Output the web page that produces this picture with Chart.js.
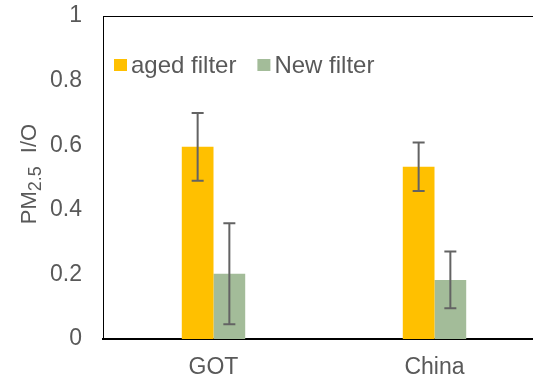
<!DOCTYPE html>
<html lang="en">
<head>
    <meta charset="UTF-8">
    <title>PM2.5 I/O</title>
    <script src="https://cdn.jsdelivr.net/npm/chart.js@4.4.1/dist/chart.umd.min.js"></script>
    <style>
        html, body { margin: 0; padding: 0; background: #fff; overflow: hidden; }
        #wrap { width: 548px; height: 379px; }
    </style>
</head>
<body>
    <div id="wrap"><canvas id="chart"></canvas></div>
    <script>
        // values
        const sites = ['GOT', 'China'];
        const agedFilter = [0.595, 0.533];
        const agedFilterErr = [0.105, 0.075];
        const newFilter = [0.202, 0.183];
        const newFilterErr = [0.156, 0.088];
        const yTicks = [0, 0.2, 0.4, 0.6, 0.8, 1];

        const textColor = '#595959';
        const fontFamily = '"Liberation Sans", Arial, sans-serif';
        const errors = [agedFilterErr, newFilterErr];

        // error bars + frame + legend + y title drawn on top of the chart
        const extras = {
            id: 'extras',
            afterDatasetsDraw(chart) {
                const ctx = chart.ctx;
                const y = chart.scales.y;
                const area = chart.chartArea;

                ctx.save();
                ctx.strokeStyle = '#636363';
                ctx.lineWidth = 2;
                chart.data.datasets.forEach((ds, di) => {
                    chart.getDatasetMeta(di).data.forEach((bar, i) => {
                        const v = ds.data[i], e = errors[di][i];
                        const yt = y.getPixelForValue(v + e);
                        const yb = y.getPixelForValue(v - e);
                        ctx.beginPath();
                        ctx.moveTo(bar.x, yt); ctx.lineTo(bar.x, yb);
                        ctx.moveTo(bar.x - 6, yt); ctx.lineTo(bar.x + 6, yt);
                        ctx.moveTo(bar.x - 6, yb); ctx.lineTo(bar.x + 6, yb);
                        ctx.stroke();
                    });
                });

                // plot frame (top and left)
                ctx.strokeStyle = '#000';
                ctx.lineWidth = 1;
                ctx.beginPath();
                ctx.moveTo(area.left + 0.5, area.bottom);
                ctx.lineTo(area.left + 0.5, area.top + 0.5);
                ctx.lineTo(area.right, area.top + 0.5);
                ctx.stroke();

                // legend inside plot
                ctx.font = '24px ' + fontFamily;
                ctx.textBaseline = 'middle';
                let lx = area.left + 11;
                const ly = 65;
                chart.data.datasets.forEach(ds => {
                    ctx.fillStyle = ds.backgroundColor;
                    ctx.fillRect(lx, ly - 6, 13, 12);
                    ctx.fillStyle = textColor;
                    ctx.fillText(ds.label, lx + 17, ly + 1);
                    lx += 17 + ctx.measureText(ds.label).width + 21;
                });

                // y axis title with subscript
                ctx.translate(28, 174);
                ctx.rotate(-Math.PI / 2);
                const big = '22px ' + fontFamily, small = '18px ' + fontFamily;
                ctx.font = big;
                const w1 = ctx.measureText('PM').width;
                const w3 = ctx.measureText('I/O').width;
                ctx.font = small;
                const w2 = ctx.measureText('2.5').width;
                const gap = 13;
                let x0 = -(w1 + w2 + gap + w3) / 2;
                ctx.textBaseline = 'alphabetic';
                ctx.font = big;
                ctx.fillText('PM', x0, 8);
                ctx.font = small;
                ctx.fillText('2.5', x0 + w1, 13);
                ctx.font = big;
                ctx.fillText('I/O', x0 + w1 + w2 + gap, 8);
                ctx.restore();
            }
        };

        new Chart(document.getElementById('chart'), {
            type: 'bar',
            data: {
                labels: sites,
                datasets: [
                    { label: 'aged filter', data: agedFilter, backgroundColor: '#FFC000' },
                    { label: 'New filter', data: newFilter, backgroundColor: '#A3BC99' }
                ]
            },
            options: {
                responsive: true,
                maintainAspectRatio: false,
                animation: false,
                layout: { padding: { top: 16, right: 3, bottom: 0, left: 0 } },
                datasets: { bar: { categoryPercentage: 0.287, barPercentage: 1 } },
                plugins: { legend: { display: false }, tooltip: { enabled: false } },
                scales: {
                    x: {
                        grid: { display: false, drawTicks: false },
                        border: { color: '#000', width: 2 },
                        ticks: { color: textColor, font: { family: fontFamily, size: 23 }, padding: 15 },
                        afterFit: s => { s.height = 40; }
                    },
                    y: {
                        min: 0, max: 1,
                        afterBuildTicks: s => { s.ticks = yTicks.map(v => ({ value: v })); },
                        grid: { display: false, drawTicks: false },
                        border: { color: '#000', width: 1 },
                        ticks: {
                            color: textColor, font: { family: fontFamily, size: 23 }, padding: 21,
                            callback: v => String(v)
                        },
                        afterFit: s => { s.width = 103; s.paddingTop = 0; s.paddingBottom = 0; }
                    }
                }
            },
            plugins: [extras]
        });
    </script>
</body>
</html>
